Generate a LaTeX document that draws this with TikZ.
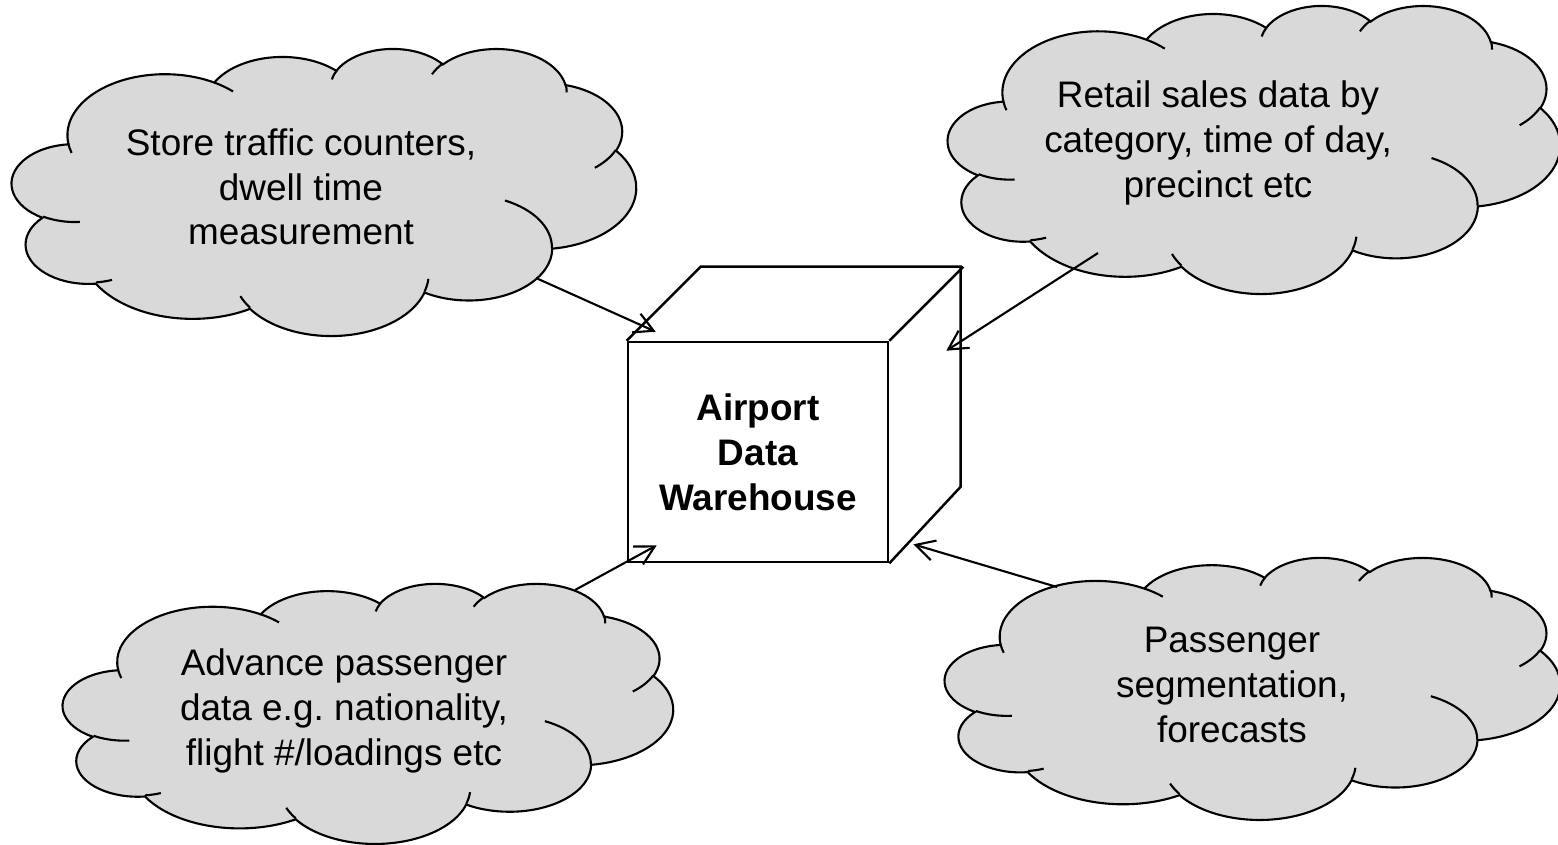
\documentclass[tikz,border=0pt]{standalone}
\usepackage{fontspec}
\setmainfont{Liberation Sans}
\usepackage{tikz}
\usepackage{xcolor}
\usetikzlibrary{arrows.meta, calc}
\definecolor{cloudgray}{HTML}{D9D9D9}
\frenchspacing

% cloud outline in a 432 x 432 box, put at (x, y) with size w x h
\newcommand{\drawcloud}[4]{%
    \begin{scope}[shift={(#1, #2)}, xscale=#3/432, yscale=#4/432]
        \path[cloud] (39.00, 143.70)
            arc[puffarc={67.53}{91.90}{-190.4875}{123.7805}]
            arc[puffarc={53.33}{72.67}{-144.1024}{89.9452}]
            arc[puffarc={43.65}{59.45}{-145.8079}{99.7230}]
            arc[puffarc={48.57}{65.95}{-130.9861}{117.2417}]
            arc[puffarc={53.33}{72.73}{-78.7089}{109.0269}]
            arc[puffarc={67.75}{92.20}{-46.2673}{130.2690}]
            arc[puffarc={57.85}{78.67}{0.6250}{114.0333}]
            arc[puffarc={67.52}{92.15}{22.4516}{115.1726}]
            arc[puffarc={77.20}{105.43}{66.2426}{75.7110}]
            arc[puffarc={43.60}{59.18}{-274.9421}{146.7356}]
            arc[puffarc={43.45}{59.45}{-246.8285}{152.5189}]
            -- cycle;
        % short inner lines between the puffs
        \path[puffline]
            (46.93, 261.77) arc[puffarc={43.45}{59.45}{86.7420}{26.4295}]
            (69.28, 348.99) arc[puffarc={43.60}{59.18}{73.6105}{11.4475}]
            (164.78, 390.90) arc[puffarc={67.52}{92.15}{137.6242}{14.0811}]
            (288.27, 347.51) arc[puffarc={67.52}{92.15}{6.4533}{15.9984}]
            (341.29, 229.54) arc[puffarc={57.85}{78.67}{-70.2924}{70.9174}]
            (417.98, 153.54) arc[puffarc={53.33}{72.73}{30.3180}{27.7515}]
            (383.24, 54.26) arc[puffarc={48.57}{65.95}{-13.7443}{14.8589}]
            (290.78, 39.52) arc[puffarc={48.57}{65.95}{-149.1815}{18.1954}]
            (221.41, 47.20) arc[puffarc={43.65}{59.45}{-163.4943}{17.6864}]
            (140.00, 51.92) arc[puffarc={67.53}{91.90}{-66.7070}{12.3194}]
            (41.27, 157.89) arc[puffarc={67.53}{91.90}{157.6544}{11.8582}];
    \end{scope}}

\begin{document}
\begin{tikzpicture}[
            x = 0.01cm, % one unit per pixel
            y = -0.01cm, % y runs downwards
            declare function = {
                pang(\angA,\radW,\radH) = atan2(\radW*sin(\angA), \radH*cos(\angA));
                pdel(\angA,\angD,\radW,\radH) = mod(pang(\angA+\angD,\radW,\radH) - pang(\angA,\radW,\radH) + 720, 360);
            }
        ]

        \tikzset{
            puffarc/.style n args = {4}{
                x radius = #1,
                y radius = #2,
                start angle = {pang(#3,#1,#2)},
                delta angle = {pdel(#3,#4,#1,#2)}
            }
        }

        \tikzstyle{cloud}=[
            draw = black,
            fill = cloudgray,
            line width = 0.6pt
        ]
        \tikzstyle{puffline}=[
            draw = black,
            line width = 0.6pt
        ]
        \tikzstyle{cloudtext}=[
            align = center,
            font = \fontsize{10.5pt}{12.7pt}\selectfont
        ]
        \tikzstyle{warehousebox}=[
            draw = black,
            line width = 0.7pt,
            minimum width = 2.6cm,
            minimum height = 2.2cm,
            align = center,
            font = \fontsize{10.5pt}{12.8pt}\selectfont\bfseries
        ]
        \tikzstyle{cubeline}=[
            draw = black,
            line width = 0.7pt,
            line join = miter
        ]
        \tikzstyle{feed}=[
            -{Straight Barb[length = 5.4pt, width = 5.8pt]},
            line width = 0.6pt
        ]

        \useasboundingbox (0, 0) rectangle (1558, 844);

        % clouds
        \drawcloud{12}{48}{624}{287}
        \drawcloud{948}{5}{612}{288}
        \drawcloud{63}{583}{610}{260}
        \drawcloud{945}{557}{615}{262}

        \node[cloudtext] (store) [at={(301, 187)}] {Store traffic counters,\\dwell time\\measurement};
        \node[cloudtext] (retail) [at={(1218, 143)}] {Retail sales data by\\category, time of day,\\precinct etc};
        \node[cloudtext] (advance) [at={(344, 711)}] {Advance passenger\\data e.g. nationality,\\flight \#/loadings etc};
        \node[cloudtext] (segment) [at={(1232, 685)}] {Passenger\\segmentation,\\forecasts};

        % the warehouse cube
        \node[warehousebox] (warehouse) [at={(758, 452)}] {Airport\\Data\\Warehouse};
        \draw[cubeline] (warehouse.north west) -- ++(74, -74) -- ++(260, 0) -- ++(0, 220) -- (warehouse.south east);
        \draw[cubeline] (warehouse.north east) -- ++(74, -74);

        % where the arrows leave the clouds
        \coordinate (storeexit) at (536, 278);
        \coordinate (retailexit) at (1098, 253);
        \coordinate (advanceexit) at (575, 590);
        \coordinate (segmentexit) at (1057, 587);

        \path[feed] (storeexit) edge ($(warehouse.north west) + (29, -9)$);
        \path[feed] (retailexit) edge ($(warehouse.north east) + (57, 10)$);
        \path[feed] (advanceexit) edge ($(warehouse.south west) + (30, -18)$);
        \path[feed] (segmentexit) edge ($(warehouse.south east) + (24, -19)$);
    \end{tikzpicture}
\end{document}
